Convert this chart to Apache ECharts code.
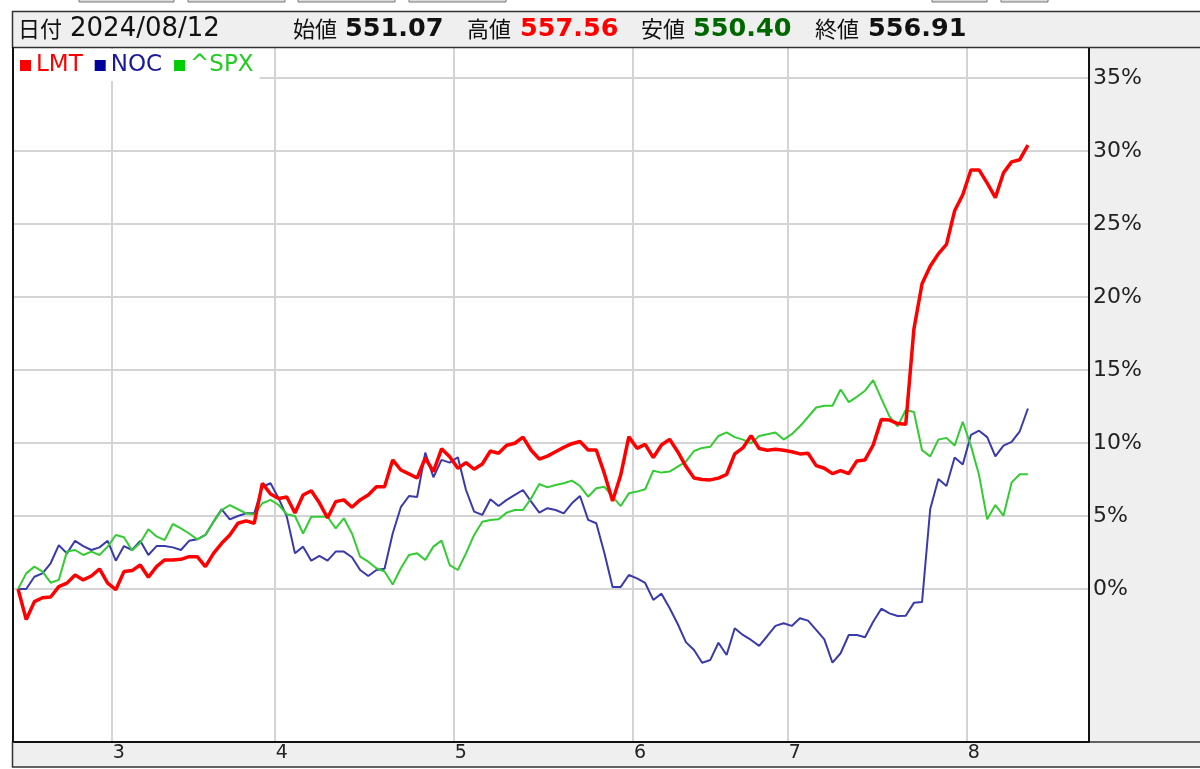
<!DOCTYPE html>
<html><head><meta charset="utf-8">
<script src="https://cdn.jsdelivr.net/npm/echarts@6/dist/echarts.min.js"></script>
<style>html,body{margin:0;padding:0;background:#fff}#c{width:1200px;height:769px}</style>
</head><body><div id="c"></div>
<script>
// trading days shown (2024), month -> days
const months = [2, 3, 4, 5, 6, 7, 8];
const daysFeb = [13,14,15,16,20,21,22,23,26,27,28,29];
const daysMar = [1,4,5,6,7,8,11,12,13,14,15,18,19,20,21,22,25,26,27,28];
const daysApr = [1,2,3,4,5,8,9,10,11,12,15,16,17,18,19,22,23,24,25,26,29,30];
const daysMay = [1,2,3,6,7,8,9,10,13,14,15,16,17,20,21,22,23,24,28,29,30,31];
const daysJun = [3,4,5,6,7,10,11,12,13,14,17,18,20,21,24,25,26,27,28];
const daysJul = [1,2,3,5,8,9,10,11,12,15,16,17,18,19,22,23,24,25,26,29,30,31];
const daysAug = [1,2,5,6,7,8,9,12];
const padSlots = 7;

// % change from first day
const lmt = [0,-2.1,-0.87,-0.6,-0.55,0.16,0.4,0.96,0.62,0.89,1.37,0.4,
  -0.05,1.19,1.26,1.64,0.8,1.53,1.99,1.99,2.03,2.21,2.21,1.53,2.44,3.13,3.7,4.5,4.66,4.5,7.24,6.5,
  6.2,6.3,5.2,6.44,6.73,5.9,4.86,5.98,6.1,5.6,6.1,6.44,7.0,7.0,8.84,8.15,7.88,7.6,8.97,8.04,9.6,9.06,
  8.26,8.65,8.2,8.56,9.45,9.29,9.84,9.98,10.4,9.5,8.9,9.1,9.4,9.7,9.95,10.1,9.52,9.52,7.9,6.03,7.8,10.43,
  9.63,9.9,9.0,9.86,10.25,9.4,8.4,7.6,7.5,7.47,7.59,7.84,9.25,9.66,10.5,9.62,9.5,9.57,9.5,
  9.4,9.25,9.3,8.45,8.27,7.9,8.1,7.9,8.77,8.84,9.86,11.6,11.57,11.33,11.28,17.8,20.9,22.1,22.95,23.6,25.9,27.0,
  28.7,28.7,27.8,26.8,28.5,29.25,29.4,30.4];
const noc = [0,0,0.84,1.07,1.76,3.0,2.44,3.3,2.94,2.67,2.85,3.3,
  1.94,2.94,2.67,3.3,2.33,2.94,2.94,2.85,2.67,3.3,3.4,3.7,4.61,5.46,4.77,5.0,5.18,5.18,7.0,7.24,
  6.2,4.95,2.44,2.9,1.94,2.26,1.94,2.56,2.56,2.17,1.3,0.89,1.3,1.38,3.8,5.6,6.37,6.3,9.34,7.65,8.84,8.65,
  9.02,6.78,5.3,5.07,6.14,5.68,6.1,6.44,6.78,5.98,5.23,5.53,5.41,5.18,5.87,6.37,4.73,4.5,2.44,0.14,0.14,0.96,
  0.73,0.41,-0.75,-0.32,-1.3,-2.4,-3.64,-4.18,-5.05,-4.86,-3.68,-4.52,-2.69,-3.15,-3.49,-3.9,-3.22,-2.53,-2.35,
  -2.53,-2.0,-2.17,-2.8,-3.45,-5.05,-4.4,-3.15,-3.15,-3.3,-2.24,-1.35,-1.67,-1.85,-1.83,-0.95,-0.9,5.46,7.53,7.05,9.0,8.52,
  10.55,10.84,10.4,9.08,9.82,10.07,10.8,12.36];
const spx = [0,1.07,1.53,1.19,0.43,0.62,2.56,2.67,2.33,2.56,2.33,2.9,
  3.7,3.54,2.63,3.17,4.09,3.6,3.35,4.45,4.15,3.8,3.4,3.7,4.6,5.4,5.75,5.46,5.18,5.1,5.87,6.1,
  5.75,5.12,5.0,3.8,4.95,4.95,4.95,4.15,4.84,3.8,2.21,1.87,1.42,1.2,0.3,1.42,2.33,2.44,1.99,2.9,3.31,1.64,
  1.3,2.44,3.7,4.61,4.73,4.77,5.23,5.41,5.41,6.2,7.19,6.96,7.12,7.24,7.42,7.05,6.32,6.9,7.0,6.32,5.68,6.55,
  6.67,6.83,8.1,7.97,8.04,8.38,8.72,9.45,9.66,9.74,10.48,10.72,10.4,10.23,9.98,10.48,10.6,10.72,10.23,
  10.6,11.14,11.78,12.43,12.55,12.55,13.66,12.8,13.16,13.58,14.3,13.04,11.82,11.14,12.26,12.12,9.5,9.08,10.23,10.35,9.82,11.45,
  9.8,7.8,4.77,5.75,5.02,7.3,7.86,7.86];
const yTicks = [0, 5, 10, 15, 20, 25, 30, 35];

const headerDate = '2024/08/12';
const headerOpen = '551.07', headerHigh = '557.56', headerLow = '550.40', headerClose = '556.91';

// build categories
const dayLists = [daysFeb, daysMar, daysApr, daysMay, daysJun, daysJul, daysAug];
const cats = [];
const monthStart = new Set();
dayLists.forEach((list, mi) => {
  list.forEach((d, di) => {
    if (di === 0 && mi > 0) monthStart.add(cats.length);
    cats.push('2024/' + String(months[mi]).padStart(2, '0') + '/' + String(d).padStart(2, '0'));
  });
});
for (let i = 0; i < padSlots; i++) cats.push('pad' + i);

const FONT = '"DejaVu Sans", "Noto Sans CJK JP", sans-serif';
const chart = echarts.init(document.getElementById('c'), null, {renderer: 'canvas'});

function hText(x, text, opts) {
  return Object.assign({type: 'text', x: x, y: 29, z: 100,
    style: Object.assign({text: text, fill: '#111', font: '26px ' + FONT, textVerticalAlign: 'middle'}, opts || {})});
}
const cjk = {font: '22px "Noto Sans CJK JP", sans-serif'};
const bold = c => ({font: 'bold 25.5px ' + FONT, fill: c});

chart.setOption({
  animation: false,
  backgroundColor: '#fff',
  grid: {left: 14, right: 111, top: 48, bottom: 27, containLabel: false},
  legend: {
    left: 14, top: 49, icon: 'rect', itemWidth: 11, itemHeight: 11, itemGap: 12,
    backgroundColor: '#fff', padding: [5, 6, 4, 6],
    textStyle: {fontSize: 23, fontFamily: FONT},
    data: [
      {name: 'LMT', textStyle: {color: '#ff0000'}, itemStyle: {color: '#ff0000'}},
      {name: 'NOC', textStyle: {color: '#1a1a9c'}, itemStyle: {color: '#00009c'}},
      {name: '^SPX', textStyle: {color: '#22cc22'}, itemStyle: {color: '#00cc00'}}
    ]
  },
  xAxis: {
    type: 'category', data: cats, boundaryGap: true,
    axisLine: {onZero: false, lineStyle: {color: '#111', width: 2}},
    axisTick: {show: false},
    axisLabel: {
      interval: (idx) => monthStart.has(idx),
      formatter: (v) => String(parseInt(v.slice(5, 7), 10)),
      fontSize: 19, color: '#222', fontFamily: FONT, margin: 2, padding: [0, 0, 0, 6]
    },
    splitLine: {show: true, interval: (idx) => monthStart.has(idx), lineStyle: {color: '#d4d4d4', width: 2}}
  },
  yAxis: {
    type: 'value', position: 'right', min: -10.48, max: 37.05,
    axisLine: {show: true, onZero: false, lineStyle: {color: '#111', width: 2}},
    axisTick: {show: false, customValues: yTicks},
    axisLabel: {customValues: yTicks, formatter: v => v + '%', fontSize: 22, color: '#222', fontFamily: FONT, margin: 4},
    splitLine: {show: true, lineStyle: {color: '#d4d4d4', width: 2}}
  },
  series: [
    {name: 'NOC', type: 'line', data: noc, showSymbol: false, symbol: 'none', z: 3,
     lineStyle: {color: '#3a3aaa', width: 2}, itemStyle: {color: '#00009c'}},
    {name: '^SPX', type: 'line', data: spx, showSymbol: false, symbol: 'none', z: 4,
     lineStyle: {color: '#33cc33', width: 2}, itemStyle: {color: '#00cc00'}},
    {name: 'LMT', type: 'line', data: lmt, showSymbol: false, symbol: 'none', z: 5,
     lineStyle: {color: '#ff0000', width: 3.5}, itemStyle: {color: '#ff0000'}}
  ],
  graphic: {elements: [
    // top button stubs
    {type: 'rect', shape: {x: 79, y: -4, width: 95, height: 6}, style: {fill: '#ddd', stroke: '#777', lineWidth: 1}, z: 50},
    {type: 'rect', shape: {x: 188, y: -4, width: 97, height: 6}, style: {fill: '#ddd', stroke: '#777', lineWidth: 1}, z: 50},
    {type: 'rect', shape: {x: 298, y: -4, width: 97, height: 6}, style: {fill: '#ddd', stroke: '#777', lineWidth: 1}, z: 50},
    {type: 'rect', shape: {x: 409, y: -4, width: 97, height: 6}, style: {fill: '#ddd', stroke: '#777', lineWidth: 1}, z: 50},
    {type: 'rect', shape: {x: 932, y: -4, width: 55, height: 6}, style: {fill: '#ddd', stroke: '#777', lineWidth: 1}, z: 50},
    {type: 'rect', shape: {x: 1001, y: -4, width: 47, height: 6}, style: {fill: '#ddd', stroke: '#777', lineWidth: 1}, z: 50},
    // header bar
    {type: 'rect', shape: {x: 12.5, y: 11.5, width: 1200, height: 36}, style: {fill: '#efefef', stroke: '#333', lineWidth: 1.5}, z: 50},
    // right gray area
    {type: 'rect', shape: {x: 1089, y: 48, width: 112, height: 694}, style: {fill: '#efefef'}, z: -1},
    // footer
    {type: 'rect', shape: {x: 12.5, y: 742, width: 1200, height: 25}, style: {fill: '#efefef', stroke: '#333', lineWidth: 1.5}, z: -1},
    // left border
    {type: 'line', shape: {x1: 13, y1: 47, x2: 13, y2: 742}, style: {stroke: '#111', lineWidth: 2}, z: 50},
    hText(18, '日付', cjk),
    hText(70, headerDate),
    hText(293, '始値', cjk),
    hText(345, headerOpen, bold('#111')),
    hText(467, '高値', cjk),
    hText(520, headerHigh, bold('#ff0000')),
    hText(641, '安値', cjk),
    hText(693, headerLow, bold('#006600')),
    hText(815, '終値', cjk),
    hText(868, headerClose, bold('#111'))
  ]}
});
</script></body></html>
